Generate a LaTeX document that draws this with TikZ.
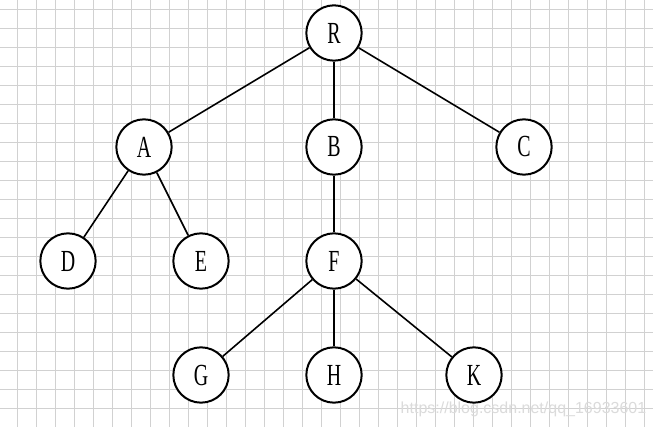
\documentclass[tikz,border=0pt]{standalone}
\usepackage{fontspec}
\newfontfamily\treefont[FakeStretch=0.65]{Liberation Serif}
\newfontfamily\markfont{Liberation Sans}
\begin{document}
\begin{tikzpicture}[x=0.75pt,y=-0.75pt,
  gridline/.style={draw=black!18,line width=0.75pt},
  vertex/.style={draw,circle,line width=1.5pt,fill=white,inner sep=0pt,
    minimum size=41.5pt,font=\treefont\fontsize{23}{23}\selectfont},
  edge/.style={line width=1.2pt}]
\useasboundingbox (0,0) rectangle (653,427);
\fill[white] (0,0) rectangle (653,427);
% grid
\foreach \i in {0,...,33}
  \draw[gridline] (17.3+19*\i,0) -- (17.3+19*\i,427);
\foreach \j in {0,...,21}
  \draw[gridline] (0,9.3+19*\j) -- (653,9.3+19*\j);
% nodes
\node[vertex] (R) at (334,33) {R};
\node[vertex] (A) at (144,147) {A};
\node[vertex] (B) at (334,147) {B};
\node[vertex] (C) at (524,147) {C};
\node[vertex] (D) at (68,261) {D};
\node[vertex] (E) at (201,261) {E};
\node[vertex] (F) at (334,261) {F};
\node[vertex] (G) at (201,375) {G};
\node[vertex] (H) at (334,375) {H};
\node[vertex] (K) at (474,375) {K};
% edges
\draw[edge] (R) -- (A);
\draw[edge] (R) -- (B);
\draw[edge] (R) -- (C);
\draw[edge] (A) -- (D);
\draw[edge] (A) -- (E);
\draw[edge] (B) -- (F);
\draw[edge] (F) -- (G);
\draw[edge] (F) -- (H);
\draw[edge] (F) -- (K);
% watermark
\node[text=black!14,inner sep=0pt,font=\markfont\fontsize{12}{12}\selectfont] (mark) at (523.5,409) {https://blog.csdn.net/qq\_16933601};
\end{tikzpicture}
\end{document}
